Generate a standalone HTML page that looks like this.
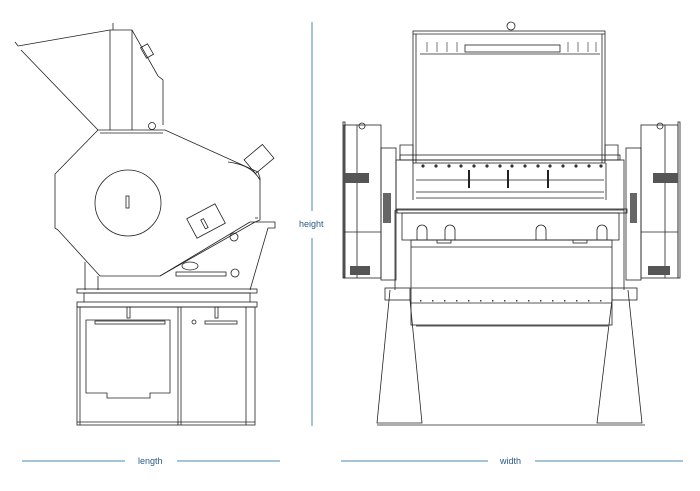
<!DOCTYPE html>
<html><head><meta charset="utf-8"><style>
html,body{margin:0;padding:0;background:#fff;width:700px;height:491px;overflow:hidden}
svg{display:block}
text{font-family:"Liberation Sans",sans-serif;font-size:9px;fill:#2a5a8a}
</style></head><body>
<svg width="700" height="491" viewBox="0 0 700 491" xmlns="http://www.w3.org/2000/svg">
<g stroke="#4a8ab8" stroke-width="1">
<line x1="312" y1="22" x2="312" y2="211"/><line x1="312" y1="238" x2="312" y2="426"/>
<line x1="22" y1="461" x2="125" y2="461"/><line x1="177" y1="461" x2="280" y2="461"/>
<line x1="341" y1="461" x2="488" y2="461"/><line x1="535" y1="461" x2="683" y2="461"/>
</g>
<text x="299" y="227">height</text>
<text x="138" y="464">length</text>
<text x="500" y="464">width</text>

<g fill="none" stroke="#222" stroke-width="0.8">
<!-- LEFT VIEW -->
<polyline points="18,46 110,30 132,30 158,76 163,80 163,125"/>
<line x1="21" y1="50" x2="98" y2="130"/>
<line x1="110" y1="30" x2="110" y2="130"/><line x1="132" y1="30" x2="132" y2="130"/>
<line x1="113" y1="23" x2="113" y2="30"/>
<rect x="143" y="45" width="8" height="12" transform="rotate(-30 147 51)"/>
<polygon points="98,130 165,130 258,172 260,178 260,220 255,222 160,276 100,276 58,230 55,228 55,174 57,172"/>
<line x1="100" y1="133" x2="163" y2="133"/>
<circle cx="152" cy="126" r="3.5"/>
<circle cx="128" cy="203" r="33"/>
<rect x="126" y="196" width="3" height="12"/>
<rect x="247" y="150" width="24" height="18" transform="rotate(-40 259 159)"/>
<path d="M228,162 Q252,165 260,180"/>
<rect x="190" y="210" width="32" height="22" transform="rotate(-28 206 221)"/>
<rect x="203" y="219" width="3" height="10" transform="rotate(-28 204 224)"/>
<polyline points="250,222 275,222 275,228 268,228 250,290"/>
<line x1="255" y1="218" x2="258" y2="218"/>
<line x1="160" y1="276" x2="250" y2="222"/>
<rect x="176" y="272" width="50" height="4"/>
<ellipse cx="190" cy="266" rx="8" ry="4"/>
<circle cx="235" cy="273" r="4"/><circle cx="234" cy="237" r="4"/>
<line x1="85" y1="262" x2="85" y2="290"/><line x1="98" y1="276" x2="98" y2="290"/>
<rect x="77" y="123" width="0" height="0"/>
<rect x="77" y="289" width="180" height="4"/>
<line x1="84" y1="293" x2="250" y2="293"/><line x1="84" y1="293" x2="84" y2="302"/><line x1="250" y1="293" x2="250" y2="302"/>
<rect x="77" y="302" width="180" height="5"/>
<rect x="77" y="307" width="178" height="118"/>
<line x1="80" y1="307" x2="80" y2="425"/><line x1="246" y1="307" x2="246" y2="425"/>
<line x1="178" y1="307" x2="178" y2="425"/><line x1="181" y1="307" x2="181" y2="425"/>
<path d="M86,320 H170 V393 H150 V398 H107 V393 H86 Z"/>
<rect x="95" y="321" width="70" height="3"/>
<rect x="205" y="321" width="32" height="3"/>
<circle cx="194" cy="322" r="2"/>
<rect x="127" y="307" width="3" height="11"/><rect x="215" y="307" width="3" height="11"/>
<line x1="77" y1="422" x2="255" y2="422"/>
<line x1="18" y1="46" x2="15" y2="42"/>

<!-- RIGHT VIEW -->
<rect x="413" y="31" width="192" height="132"/>
<line x1="413" y1="34" x2="605" y2="34"/><line x1="416" y1="34" x2="416" y2="163"/><line x1="602" y1="34" x2="602" y2="163"/>
<rect x="465" y="45" width="95" height="7"/>
<line x1="420" y1="54" x2="600" y2="54"/>
<circle cx="511" cy="26" r="4"/>
<g stroke-width="0.6">
<line x1="427" y1="42" x2="427" y2="52"/><line x1="437" y1="42" x2="437" y2="52"/><line x1="447" y1="42" x2="447" y2="52"/><line x1="457" y1="42" x2="457" y2="52"/>
<line x1="568" y1="42" x2="568" y2="52"/><line x1="578" y1="42" x2="578" y2="52"/><line x1="588" y1="42" x2="588" y2="52"/><line x1="596" y1="42" x2="596" y2="52"/>
</g>
<polyline points="413,163 413,145 400,145 400,160"/><polyline points="605,163 605,145 618,145 618,160"/>
<rect x="400" y="155" width="220" height="5"/>
<rect x="396" y="160" width="228" height="50"/>
<line x1="413" y1="163" x2="413" y2="200"/><line x1="606" y1="163" x2="606" y2="200"/>
<line x1="416" y1="180" x2="604" y2="180"/>
<line x1="416" y1="192" x2="604" y2="192"/>
<line x1="416" y1="198" x2="604" y2="198"/>
<rect x="397" y="209" width="230" height="4"/>
<rect x="402" y="213" width="217" height="27"/>
<rect x="411" y="240" width="201" height="85"/>
<line x1="411" y1="247" x2="612" y2="247"/>
<line x1="411" y1="288" x2="612" y2="288"/>
<line x1="411" y1="303" x2="612" y2="303"/>
<line x1="416" y1="326" x2="608" y2="326"/>
<!-- legs -->
<polyline points="390,290 377,423 422,423 410,300"/>
<polyline points="628,290 642,423 597,423 612,300"/>
<line x1="377" y1="425" x2="645" y2="425"/>
<rect x="385" y="288" width="25" height="12"/><rect x="612" y="288" width="25" height="12"/>
<line x1="395" y1="210" x2="395" y2="290"/><line x1="624" y1="210" x2="624" y2="290"/>
<!-- motors -->
<rect x="344" y="125" width="37" height="153"/>
<line x1="357" y1="125" x2="357" y2="278"/>
<rect x="343" y="122" width="2" height="156"/>
<circle cx="362" cy="126" r="3"/>
<rect x="381" y="148" width="15" height="132"/>
<rect x="641" y="125" width="37" height="153"/>
<line x1="665" y1="125" x2="665" y2="278"/>
<rect x="678" y="122" width="2" height="156"/>
<circle cx="660" cy="126" r="3"/>
<rect x="626" y="148" width="15" height="132"/>
<line x1="344" y1="232" x2="381" y2="232"/><line x1="641" y1="232" x2="678" y2="232"/>
<!-- locks -->
<path d="M417,240 V230 A5,5 0 0 1 427,230 V240"/><path d="M445,240 V230 A5,5 0 0 1 455,230 V240"/>
<path d="M536,240 V230 A5,5 0 0 1 546,230 V240"/><path d="M597,240 V230 A5,5 0 0 1 607,230 V240"/>
<rect x="437" y="240" width="14" height="3"/><rect x="573" y="240" width="14" height="3"/>
</g>
<g fill="#222">
<rect x="345" y="173" width="24" height="10" fill="#555"/>
<rect x="653" y="173" width="25" height="10" fill="#555"/>
<rect x="350" y="266" width="20" height="9" fill="#555"/>
<rect x="648" y="266" width="22" height="9" fill="#555"/>
<rect x="383" y="193" width="8" height="30" fill="#666"/>
<rect x="630" y="193" width="7" height="30" fill="#666"/>
<g fill="#333">
<circle cx="423" cy="166" r="1.6"/><circle cx="436" cy="166" r="1.6"/><circle cx="449" cy="166" r="1.6"/><circle cx="461" cy="166" r="1.6"/><circle cx="474" cy="166" r="1.6"/><circle cx="487" cy="166" r="1.6"/><circle cx="500" cy="166" r="1.6"/><circle cx="512" cy="166" r="1.6"/><circle cx="525" cy="166" r="1.6"/><circle cx="538" cy="166" r="1.6"/><circle cx="550" cy="166" r="1.6"/><circle cx="563" cy="166" r="1.6"/><circle cx="576" cy="166" r="1.6"/><circle cx="589" cy="166" r="1.6"/><circle cx="601" cy="166" r="1.6"/>
</g>
<rect x="468" y="170" width="2" height="18"/><rect x="507" y="170" width="2" height="18"/><rect x="547" y="170" width="2" height="18"/>
<g fill="#444">
<rect x="420" y="300" width="1.5" height="1.5"/><rect x="432" y="300" width="1.5" height="1.5"/><rect x="444" y="300" width="1.5" height="1.5"/><rect x="456" y="300" width="1.5" height="1.5"/><rect x="468" y="300" width="1.5" height="1.5"/><rect x="480" y="300" width="1.5" height="1.5"/><rect x="492" y="300" width="1.5" height="1.5"/><rect x="504" y="300" width="1.5" height="1.5"/><rect x="516" y="300" width="1.5" height="1.5"/><rect x="528" y="300" width="1.5" height="1.5"/><rect x="540" y="300" width="1.5" height="1.5"/><rect x="552" y="300" width="1.5" height="1.5"/><rect x="564" y="300" width="1.5" height="1.5"/><rect x="576" y="300" width="1.5" height="1.5"/><rect x="588" y="300" width="1.5" height="1.5"/><rect x="600" y="300" width="1.5" height="1.5"/>
</g>
</g>
</svg>
</body></html>
